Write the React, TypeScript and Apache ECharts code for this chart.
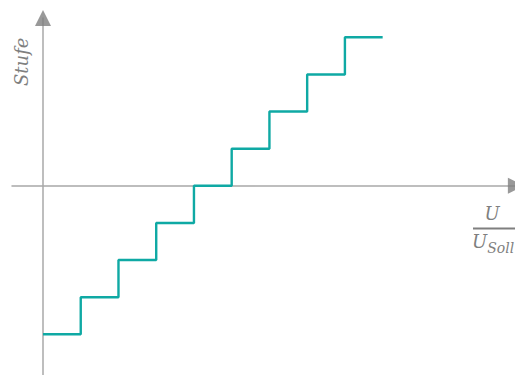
import React, { useEffect, useRef } from "react";
import * as echarts from "echarts";

const stepX = [0, 1, 2, 3, 4, 5, 6, 7, 8, 9];
const stepY = [-4, -3, -2, -1, 0, 1, 2, 3, 4, 4];
const xRange = [-0.8214, 12.507];
const yRange = [-5.096, 4.52];
const arrowTop = [0, 4.52];
const arrowRight = [12.53, 0];
const yLabel = "Stufe";
const xLabelTop = "U";
const xLabelBase = "U";
const xLabelSub = "Soll";

export default function App() {
  const ref = useRef<HTMLDivElement>(null);
  useEffect(() => {
    const chart = echarts.init(ref.current!, null, { renderer: "svg" });
    const axisColor = "#a8a8a8";
    const textColor = "#7f7f7f";
    const font = "DejaVu Serif";
    chart.setOption({
      animation: false,
      grid: { left: 12, right: 0, top: 18, bottom: 0, containLabel: false },
      xAxis: {
        type: "value",
        min: xRange[0],
        max: xRange[1],
        axisLine: { onZero: true, lineStyle: { color: axisColor, width: 1.5 } },
        axisTick: { show: false },
        axisLabel: { show: false },
        splitLine: { show: false },
      },
      yAxis: {
        type: "value",
        min: yRange[0],
        max: yRange[1],
        axisLine: { show: true, onZero: true, lineStyle: { color: axisColor, width: 1.5 } },
        axisTick: { show: false },
        axisLabel: { show: false },
        splitLine: { show: false },
      },
      series: [
        {
          type: "line",
          step: "end",
          data: stepX.map((x, i) => [x, stepY[i]]),
          showSymbol: false,
          symbol: "none",
          lineStyle: { color: "#0fa9a4", width: 2.4 },
          clip: false,
        },
        {
          type: "scatter",
          data: [arrowTop],
          symbol: "triangle",
          symbolSize: 16,
          itemStyle: { color: "#7f7f7f" },
          clip: false,
        },
        {
          type: "scatter",
          data: [arrowRight],
          symbol: "triangle",
          symbolSize: 16,
          symbolRotate: -90,
          itemStyle: { color: "#7f7f7f" },
          clip: false,
        },
      ],
      graphic: [
        {
          type: "text",
          x: 12,
          y: 86,
          rotation: Math.PI / 2,
          style: {
            text: yLabel,
            fill: textColor,
            font: `italic 18px "${font}"`,
            letterSpacing: 3,
          },
        },
        {
          type: "text",
          x: 492,
          y: 204,
          style: {
            text: xLabelTop,
            fill: textColor,
            font: `italic 18px "${font}"`,
            align: "center",
          },
        },
        {
          type: "line",
          shape: { x1: 473, y1: 228.5, x2: 515, y2: 228.5 },
          style: { stroke: textColor, lineWidth: 2 },
        },
        {
          type: "text",
          x: 472,
          y: 232,
          style: {
            text: `{a|${xLabelBase}}{b|${xLabelSub}}`,
            rich: {
              a: { fill: textColor, font: `italic 18px "${font}"`, verticalAlign: "top" },
              b: { fill: textColor, font: `italic 14px "${font}"`, padding: [9, 0, 0, 0] },
            },
          },
        },
      ],
    });
    return () => chart.dispose();
  }, []);
  return (
    <div
      ref={ref}
      style={{ position: "fixed", left: 0, top: 0, width: 515, height: 375, background: "#fff" }}
    />
  );
}
